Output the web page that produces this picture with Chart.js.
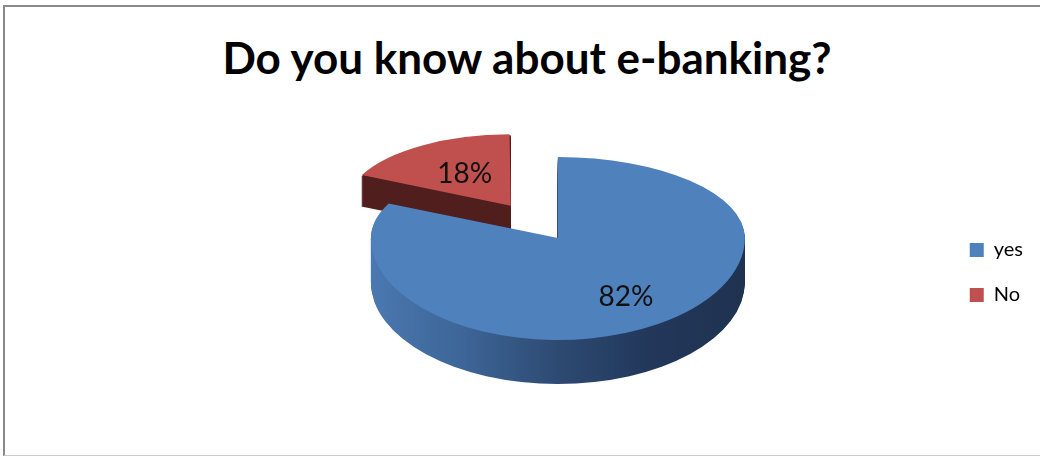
<!DOCTYPE html>
<html>
<head>
<meta charset="utf-8">
<title>Do you know about e-banking?</title>
<script src="https://cdn.jsdelivr.net/npm/chart.js@4.4.1/dist/chart.umd.min.js"></script>
<style>
  html, body { margin: 0; padding: 0; background: #fff; }
  #wrap { position: relative; width: 1040px; height: 456px; overflow: hidden; }
  #frame {
    position: absolute; left: 3px; top: 5px; width: 1040px; height: 448px;
    border-left: 2px solid #8a8a8a; border-top: 2px solid #8a8a8a; border-bottom: 1px solid #cdcdcd;
  }
  #title {
    position: absolute; left: 0; top: 35px; width: 1054px; text-align: center;
    font: bold 44px Lato, sans-serif; line-height: 44px; color: #000;
  }
  canvas { position: absolute; left: 0; top: 0; }
</style>
</head>
<body>
<div id="wrap">
  <div id="frame"></div>
  <div id="title">Do you know about e-banking?</div>
  <canvas id="chart" width="1040" height="456"></canvas>
</div>
<script>
// survey answers
const categories = ['yes', 'No'];
const shares = [82, 18];

// colours: top face, and the shading along the side wall (left -> right)
const topColors = ['#4f81bd', '#c0504d'];
const sideShades = [
  ['#4a78b0', '#3d6597', '#2d4a72', '#22375a', '#1f3250'],
  ['#4f1e1d', '#4f1e1d']
];
const sliceOffsets = [0, 352];   // "No" is pulled out of the pie
const farScale = [1, 0.845];     // pulled-out slice sits further back, so it looks smaller
const labelRadius = [0.68, 0.52];

const TILT = { back: 0.433, front: 0.545 };  // back half of the disc is flatter
const DEPTH = 44;                            // wall height in px

// same geometry the ArcElement uses when it draws with an offset
function sliceGeom(arc) {
  const off = (arc.options.offset || 0) / 4;
  const mid = (arc.startAngle + arc.endAngle) / 2;
  const fix = 1 - Math.sin(Math.min(Math.PI, arc.circumference || 0));
  return {
    cx: arc.x + Math.cos(mid) * off,
    cy: arc.y + Math.sin(mid) * off,
    r: arc.outerRadius + off * fix,
    start: arc.startAngle,
    end: arc.endAngle,
    mid: mid
  };
}

const pie3d = {
  id: 'pie3d',
  beforeDatasetsDraw(chart) {
    const ctx = chart.ctx;
    const arcs = chart.getDatasetMeta(0).data;
    const px = arcs[0].x, py = arcs[0].y;
    const W = chart.width, H = chart.height;

    // run fn in the plane of the pie, once for the back half and once for the front half
    const inPlane = (fn) => {
      [[TILT.back, -H, py + H], [TILT.front, py, 2 * H]].forEach(([k, y0, h]) => {
        ctx.save();
        ctx.beginPath();
        ctx.rect(0, y0, W, h);
        ctx.clip();
        ctx.translate(px, py);
        ctx.scale(1, k);
        ctx.translate(-px, -py);
        fn();
        ctx.restore();
      });
    };

    // back slices first
    const order = arcs.map((a, i) => i)
      .sort((a, b) => sliceGeom(arcs[a]).cy - sliceGeom(arcs[b]).cy);

    order.forEach(i => {
      const arc = arcs[i];
      const g = sliceGeom(arc);
      const s = farScale[i];
      const aroundApex = () => {
        ctx.translate(g.cx, g.cy);
        ctx.scale(s, s);
        ctx.translate(-g.cx, -g.cy);
      };

      // side wall: the slice stacked downwards
      const depth = Math.round(DEPTH * s * s);
      for (let d = depth; d > 0; d--) {
        ctx.save();
        ctx.translate(0, d);
        inPlane(() => {
          aroundApex();
          const grad = ctx.createLinearGradient(g.cx - g.r, 0, g.cx + g.r, 0);
          const shades = sideShades[i];
          shades.forEach((c, n) => grad.addColorStop(n / (shades.length - 1), c));
          ctx.fillStyle = grad;
          ctx.beginPath();
          ctx.moveTo(g.cx, g.cy);
          ctx.arc(g.cx, g.cy, g.r, g.start, g.end);
          ctx.closePath();
          ctx.fill();
        });
        ctx.restore();
      }

      // top face
      inPlane(() => {
        aroundApex();
        arc.draw(ctx);
      });
    });

    // percentage labels
    const total = shares.reduce((sum, v) => sum + v, 0);
    ctx.save();
    ctx.font = '28px Lato, sans-serif';
    ctx.fillStyle = '#111';
    ctx.textAlign = 'center';
    ctx.textBaseline = 'middle';
    arcs.forEach((arc, i) => {
      const g = sliceGeom(arc);
      const d = g.r * labelRadius[i] * farScale[i];
      const lx = g.cx + Math.cos(g.mid) * d;
      const planeY = g.cy + Math.sin(g.mid) * d;
      const ly = py + (planeY - py) * (planeY < py ? TILT.back : TILT.front);
      ctx.fillText(Math.round(shares[i] / total * 100) + '%', lx, ly);
    });
    ctx.restore();
    return false;
  }
};

new Chart(document.getElementById('chart'), {
  type: 'pie',
  data: {
    labels: categories,
    datasets: [{
      data: shares,
      backgroundColor: topColors,
      borderWidth: 0,
      offset: sliceOffsets,
      radius: 187,
      cutout: '0%',
      clip: false
    }]
  },
  options: {
    responsive: false,
    animation: false,
    events: [],
    layout: { padding: { left: 171, right: 7, top: 146, bottom: 126 } },
    plugins: {
      tooltip: { enabled: false },
      title: { display: false },
      legend: {
        position: 'right',
        align: 'end',
        maxWidth: 90,
        labels: {
          color: '#000',
          font: { family: 'Lato', size: 20 },
          boxWidth: 14,
          boxHeight: 14,
          padding: 25
        }
      }
    }
  },
  plugins: [pie3d]
});
</script>
</body>
</html>
